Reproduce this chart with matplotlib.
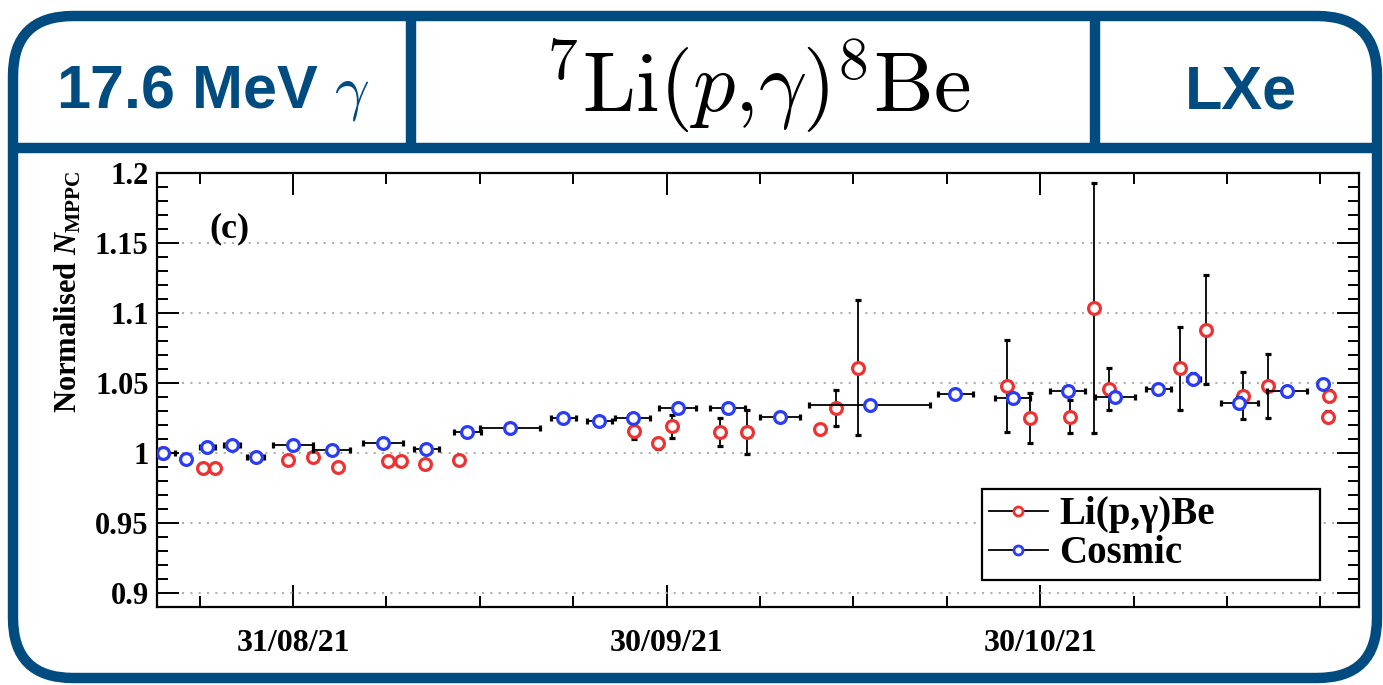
import matplotlib
matplotlib.use("Agg")
import matplotlib.pyplot as plt
import matplotlib.dates as mdates
from matplotlib.patches import FancyBboxPatch
from matplotlib.lines import Line2D
from matplotlib.ticker import MultipleLocator, FuncFormatter, FixedLocator
from datetime import datetime
import numpy as np

plt.rcParams["font.family"] = ["Liberation Serif", "DejaVu Serif"]
plt.rcParams["font.weight"] = "bold"
plt.rcParams["axes.labelweight"] = "bold"
plt.rcParams["mathtext.fontset"] = "custom"
plt.rcParams["mathtext.rm"] = "Liberation Serif:bold"
plt.rcParams["mathtext.it"] = "Liberation Serif:italic:bold"
plt.rcParams["mathtext.bf"] = "Liberation Serif:bold"

FRAME = "#004C81"
RED = "#EE3232"
BLUE = "#2A3CF5"

# Li(p,gamma)Be runs: days after 31/08/21, normalised N_MPPC, error
li_day = [-10.4, -7.2, -6.3, -0.4, 1.6, 3.6, 7.6, 8.7, 10.6, 13.3,
          27.4, 29.3, 30.4, 34.3, 36.5, 42.3, 43.6, 45.4,
          57.3, 59.2, 62.4, 64.3, 65.5, 71.2, 73.3, 76.3, 78.3, 83.2, 83.1]
li_val = [1.000, 0.989, 0.989, 0.995, 0.997, 0.990, 0.994, 0.994, 0.992, 0.995,
          1.016, 1.007, 1.019, 1.015, 1.015, 1.017, 1.032, 1.061,
          1.048, 1.025, 1.026, 1.1035, 1.046, 1.0605, 1.088, 1.041, 1.048, 1.041, 1.026]
li_err = [0.002, 0.003, 0.002, 0.002, 0.002, 0.002, 0.002, 0.002, 0.002, 0.002,
          0.006, 0.004, 0.008, 0.010, 0.0155, 0.002, 0.013, 0.048,
          0.033, 0.018, 0.0115, 0.089, 0.015, 0.0295, 0.039, 0.017, 0.023, 0.004, 0.004]

# cosmic runs: days after 31/08/21, half-width of period, value, error
cos_day = [-10.4, -8.6, -6.9, -4.9, -3.0, 0.0, 3.1, 7.2, 10.7, 14.0, 17.4,
           21.7, 24.6, 27.3, 30.9, 34.9, 39.1, 46.3, 53.2, 57.8, 62.2,
           66.0, 69.5, 72.3, 76.0, 79.8, 82.7]
cos_xerr = [0.9, 0.3, 0.6, 0.65, 0.7, 1.6, 1.5, 1.6, 1.0, 1.1, 2.4,
            1.0, 1.0, 1.4, 1.5, 1.4, 1.6, 4.85, 1.4, 1.4, 1.4,
            1.6, 1.0, 0.5, 1.5, 1.6, 0.4]
cos_val = [1.000, 0.996, 1.004, 1.006, 0.997, 1.006, 1.002, 1.007, 1.003, 1.015, 1.018,
           1.025, 1.023, 1.025, 1.032, 1.032, 1.026, 1.034, 1.042, 1.039, 1.044,
           1.040, 1.046, 1.053, 1.036, 1.044, 1.049]
cos_err = [0.002, 0.002, 0.003, 0.002, 0.002, 0.002, 0.002, 0.002, 0.003, 0.002, 0.002,
           0.002, 0.002, 0.002, 0.003, 0.003, 0.003, 0.003, 0.003, 0.003, 0.003,
           0.003, 0.003, 0.004, 0.004, 0.003, 0.003]

t0 = mdates.date2num(datetime(2021, 8, 31))
li_x = t0 + np.array(li_day)
cos_x = t0 + np.array(cos_day)

fig = plt.figure(figsize=(13.83, 6.85), dpi=100)

# slide frame with header boxes (pixel coordinates)
bg = fig.add_axes([0, 0, 1, 1])
bg.set_xlim(0, 1383)
bg.set_ylim(685, 0)
bg.axis("off")
bg.add_patch(FancyBboxPatch((13, 16), 1364, 662, boxstyle="round,pad=0,rounding_size=60",
                            fc="none", ec=FRAME, lw=7.5))
bg.plot([13, 1377], [148, 148], color=FRAME, lw=7.5, solid_capstyle="butt")
bg.plot([411, 411], [16, 152], color=FRAME, lw=7.5, solid_capstyle="butt")
bg.plot([1095, 1095], [16, 152], color=FRAME, lw=7.5, solid_capstyle="butt")
bg.text(213, 107, r"17.6 MeV $\gamma$", ha="center", va="baseline", fontsize=44,
        family="Liberation Sans", weight="bold", color=FRAME, math_fontfamily="cm")
bg.text(757, 112, r"$^{7}\mathrm{Li}(p{,}\gamma)^{8}\mathrm{Be}$", ha="center", va="baseline",
        fontsize=61, color="black", math_fontfamily="cm")
bg.text(1241, 108, "LXe", ha="center", va="baseline", fontsize=44,
        family="Liberation Sans", weight="bold", color=FRAME)

# data panel
ax = fig.add_axes([0.1135, 0.1139, 0.8691, 0.6336])
ax.errorbar(li_x, li_val, yerr=li_err, fmt="o", ms=8.5, mfc="white", mec=RED, mew=2.3,
            ecolor="black", elinewidth=1.3, capsize=2.5, capthick=1.3, zorder=3)
ax.errorbar(cos_x, cos_val, xerr=cos_xerr, yerr=cos_err, fmt="o", ms=8.5, mfc="white",
            mec=BLUE, mew=2.3, ecolor="black", elinewidth=1.3, capsize=2.5, capthick=1.3,
            zorder=4)

ax.set_xlim(t0 - 10.92, t0 + 85.6)
ax.set_ylim(0.89, 1.2)
ax.xaxis.set_major_locator(FixedLocator([t0, t0 + 30, t0 + 60]))
ax.xaxis.set_minor_locator(FixedLocator([t0 + 7.5 * k for k in range(-1, 12) if k % 4 != 0]))
ax.xaxis.set_major_formatter(mdates.DateFormatter("%d/%m/%y"))
ax.yaxis.set_major_locator(MultipleLocator(0.05))
ax.yaxis.set_minor_locator(MultipleLocator(0.01))
ax.yaxis.set_major_formatter(FuncFormatter(lambda v, p: f"{v:g}"))
ax.yaxis.grid(True, which="major", ls=(0, (1, 3)), color="#b0b0b0", lw=1.5)

ax.tick_params(which="both", direction="in", top=True, right=True, width=1.4)
ax.tick_params(which="major", length=16)
ax.tick_params(which="minor", length=8)
ax.tick_params(axis="x", labelsize=23, pad=16)
ax.tick_params(axis="y", labelsize=22, pad=6)
for s in ax.spines.values():
    s.set_linewidth(1.6)

ax.set_ylabel(r"Normalised $N_{\mathrm{MPPC}}$", fontsize=22, fontweight="bold", va="center")
ax.yaxis.set_label_coords(-0.074, 0.726)
ax.text(0.044, 0.871, "(c)", transform=ax.transAxes, fontsize=26, va="center")

handles = [
    Line2D([0], [0], color="black", lw=1.3, marker="o", ms=6.5, mfc="white", mec=RED, mew=2),
    Line2D([0], [0], color="black", lw=1.3, marker="o", ms=6.5, mfc="white", mec=BLUE, mew=2),
]
leg = ax.legend(handles, ["Li(p,γ)Be", "Cosmic"], loc="lower left", mode="expand",
                bbox_to_anchor=(0.686, 0.062, 0.2816, 0.201), fontsize=28, fancybox=False,
                framealpha=1, edgecolor="black", borderaxespad=0, borderpad=0.2,
                labelspacing=0.05, handlelength=1.5, handletextpad=0.3)
leg.get_frame().set_linewidth(1.6)

fig.savefig("out.png", dpi=100)
